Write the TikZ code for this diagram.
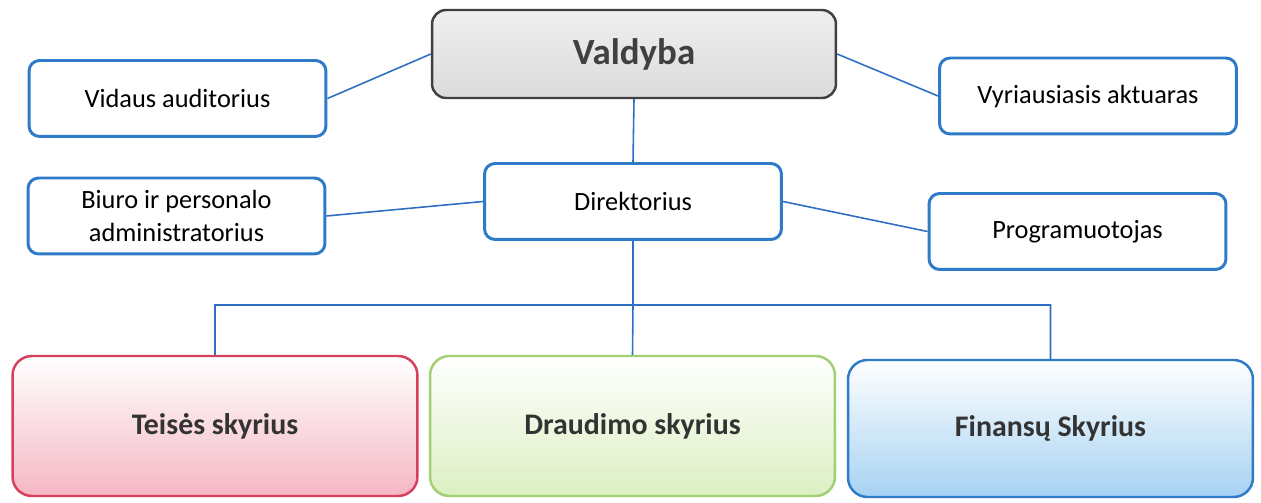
\documentclass[tikz,border=0pt]{standalone}
\usepackage{fontspec}
\setmainfont{Carlito}
\definecolor{boxblue}{HTML}{2F7BC8}
\definecolor{lineblue}{HTML}{2E6FC4}
\definecolor{boxred}{HTML}{D7405C}
\definecolor{fillred}{HTML}{F5B7C4}
\definecolor{boxgreen}{HTML}{A3CF74}
\definecolor{fillgreen}{HTML}{DCEFC2}
\definecolor{fillblue}{HTML}{A6D2F2}

\begin{document}
\begin{tikzpicture}[x=0.02cm, y=-0.02cm,
  every node/.style={shape=rectangle, rounded corners=6pt, align=center, inner sep=0pt},
  staff/.style={draw=boxblue, line width=1.7pt, fill=white, minimum width=5.94cm, minimum height=1.52cm, font=\fontsize{15}{19}\selectfont},
  unit/.style={line width=1.4pt, rounded corners=11pt, minimum width=8.1cm, minimum height=2.8cm, font=\bfseries\fontsize{17}{20}\selectfont, text=black!80},
  link/.style={draw=lineblue, line width=0.9pt}]
\useasboundingbox (0,0) rectangle (1261,503);
% top of the chart
\node (valdyba) [draw=black!75, line width=1.4pt, rounded corners=8pt, top color=gray!12, middle color=white, bottom color=gray!28,
  minimum width=8.08cm, minimum height=1.76cm, font=\bfseries\fontsize{21}{24}\selectfont, text=black!75] at (634,54) {Valdyba};
\node (vidaus) [staff] at (177.5,98.5) {Vidaus auditorius};
\node (aktuaras) [staff] at (1088,96) {Vyriausiasis aktuaras};
\node (direktorius) [staff] at (633,201.5) {Direktorius};
\node (biuras) [staff] at (176.5,216) {Biuro ir personalo\\administratorius};
\node (programuotojas) [staff] at (1077.5,231.5) {Programuotojas};
% skyriai
\node (teises) [unit, draw=boxred, top color=white, bottom color=fillred] at (215,426) {Teisės skyrius};
\node (draudimo) [unit, draw=boxgreen, top color=white, bottom color=fillgreen] at (632.5,426) {Draudimo skyrius};
\node (finansu) [unit, draw=boxblue, top color=white, bottom color=fillblue, minimum height=2.74cm] at (1050.5,428.5) {Finansų Skyrius};
\coordinate (bus) at (direktorius.south |- 0,305);
\path [link]
(vidaus.east) -- (valdyba.west)
(valdyba.east) -- (aktuaras.west)
(valdyba.south) -- (direktorius.north)
(direktorius.west) -- (biuras.east)
(direktorius.east) -- (programuotojas.west)
(direktorius.south) -- (bus)
(teises.north) |- (bus) -| (finansu.north)
(bus) -- (draudimo.north);
\end{tikzpicture}
\end{document}
